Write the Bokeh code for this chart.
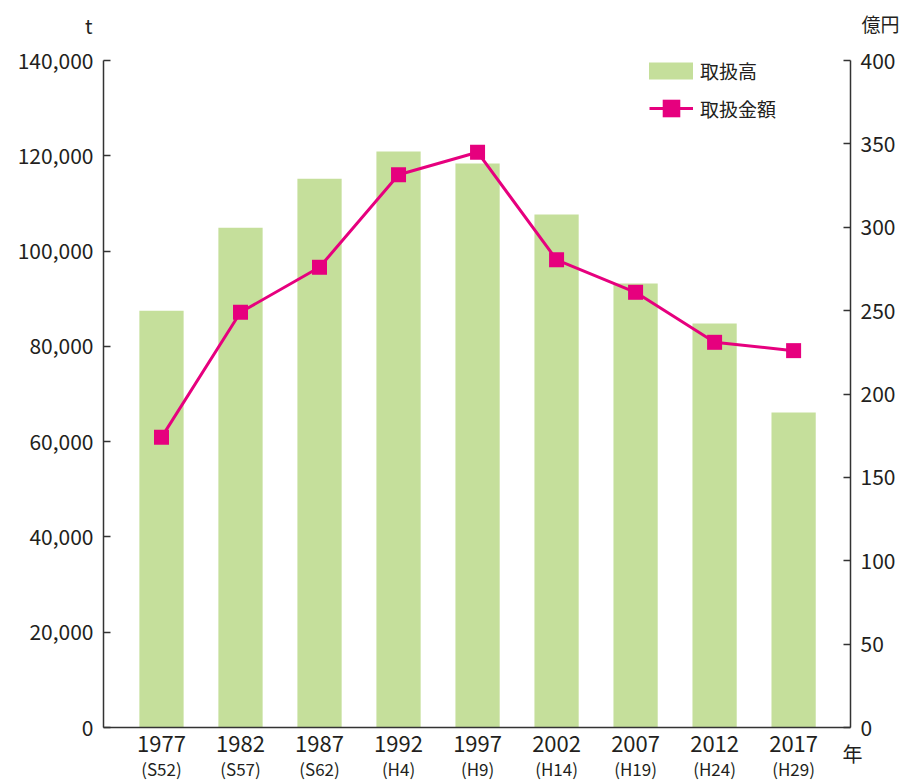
from bokeh.plotting import figure
from bokeh.models import (Range1d, LinearAxis, FixedTicker, NumeralTickFormatter,
                          Legend, LegendItem, Label)
from bokeh.embed import file_html
from bokeh.resources import INLINE

# ---- data ----
years = ["1977", "1982", "1987", "1992", "1997", "2002", "2007", "2012", "2017"]
eras = ["(S52)", "(S57)", "(S62)", "(H4)", "(H9)", "(H14)", "(H19)", "(H24)", "(H29)"]
volume_t = [87500, 104900, 115200, 120900, 118400, 107700, 93200, 84800, 66100]   # 取扱高 (t)
amount_oku = [174, 249, 276, 331.5, 345, 280.5, 261, 231, 226]                     # 取扱金額 (億円)
left_ticks = [0, 20000, 40000, 60000, 80000, 100000, 120000, 140000]
right_ticks = [0, 50, 100, 150, 200, 250, 300, 350, 400]

FONT = "Noto Sans CJK JP"
TXT = "#231f20"
AX = "#333333"
GREEN = "#c5df9b"
PINK = "#e6007e"

# ---- layout (canvas pixels) ----
W, H = 904, 780
PL, PR, PT, PB = 103, 850, 60, 727        # plot-area edges
n = len(years)
idx = list(range(n))
x0, x1 = -0.734, n - 1 + 0.72              # category span inside plot area
pxx = (PR - PL) / (x1 - x0)
ylo, yhi = left_ticks[0], left_ticks[-1]
rlo, rhi = right_ticks[0], right_ticks[-1]
pxy = (PB - PT) / (yhi - ylo)
pxr = (PB - PT) / (rhi - rlo)

p = figure(width=W, height=H, output_backend="svg", toolbar_location=None,
           x_range=Range1d(x0 - PL / pxx, x1 + (W - PR) / pxx),
           y_range=Range1d(ylo - (H - PB) / pxy, yhi + PT / pxy),
           min_border=0)
p.extra_y_ranges = {"amt": Range1d(rlo - (H - PB) / pxr, rhi + PT / pxr)}
p.outline_line_color = None
p.xgrid.visible = False
p.ygrid.visible = False
p.background_fill_color = "white"
p.border_fill_color = "white"

bars = p.vbar(x=idx, top=volume_t, width=0.56, color=GREEN, line_color=None)
ln = p.line(idx, amount_oku, y_range_name="amt", color=PINK, line_width=3)
sq = p.scatter(idx, amount_oku, y_range_name="amt", marker="square", size=15,
               color=PINK, line_color=None)

def style_axis(ax, size):
    ax.axis_line_color = AX
    ax.axis_line_width = 1.5
    ax.major_tick_line_color = AX
    ax.major_tick_line_width = 1.5
    ax.minor_tick_line_color = None
    ax.major_label_text_font = FONT
    ax.major_label_text_font_size = size
    ax.major_label_text_color = TXT

# bottom: year labels
xa = p.xaxis[0]
style_axis(xa, "22px")
xa.fixed_location = ylo
xa.bounds = (x0, x1)
xa.ticker = FixedTicker(ticks=idx)
xa.major_label_overrides = {i: y for i, y in zip(idx, years)}
xa.major_tick_line_color = None
xa.major_label_standoff = 2

# bottom: era labels
xe = LinearAxis(ticker=FixedTicker(ticks=idx), fixed_location=ylo,
                major_label_overrides={i: e for i, e in zip(idx, eras)})
style_axis(xe, "17px")
xe.axis_line_color = None
xe.major_tick_line_color = None
xe.major_label_standoff = 22
p.add_layout(xe, "below")

# left axis
ya = p.yaxis[0]
style_axis(ya, "21px")
ya.fixed_location = x0
ya.bounds = (ylo, yhi)
ya.ticker = FixedTicker(ticks=left_ticks)
ya.formatter = NumeralTickFormatter(format="0,0")
ya.major_tick_in = 7
ya.major_tick_out = 0
ya.major_label_standoff = 10

# right axis
yr = LinearAxis(y_range_name="amt", ticker=FixedTicker(ticks=right_ticks),
                fixed_location=x1, bounds=(rlo, rhi))
style_axis(yr, "21px")
yr.major_tick_in = 7
yr.major_tick_out = 0
yr.major_label_standoff = 10
p.add_layout(yr, "right")

# legends (location = bottom-left corner, pixels from plot's bottom-left)
common = dict(padding=0, margin=0, border_line_alpha=0, background_fill_alpha=0,
              label_text_font=FONT, label_text_font_size="19px", label_text_color=TXT,
              spacing=0, label_height=26)
leg1 = Legend(items=[LegendItem(label="取扱高", renderers=[bars])],
              location=(643, 696), glyph_width=55, glyph_height=21, label_standoff=2, **common)
leg2 = Legend(items=[LegendItem(label="取扱金額", renderers=[ln, sq])],
              location=(649, 650), glyph_width=44, glyph_height=44, label_standoff=7, **common)
p.add_layout(leg1)
p.add_layout(leg2)

# unit labels (screen units: from bottom-left)
lab = dict(x_units="screen", y_units="screen", text_font=FONT, text_color=TXT,
           text_baseline="middle")
p.add_layout(Label(x=92, y=H - 25, text="t", text_align="right", text_font_size="20px", **lab))
p.add_layout(Label(x=861, y=H - 23, text="億円", text_align="left", text_font_size="19px", **lab))
p.add_layout(Label(x=852, y=H - 753, text="年", text_align="center", text_font_size="20px", **lab))

open("out.html", "w").write(file_html(p, INLINE))
